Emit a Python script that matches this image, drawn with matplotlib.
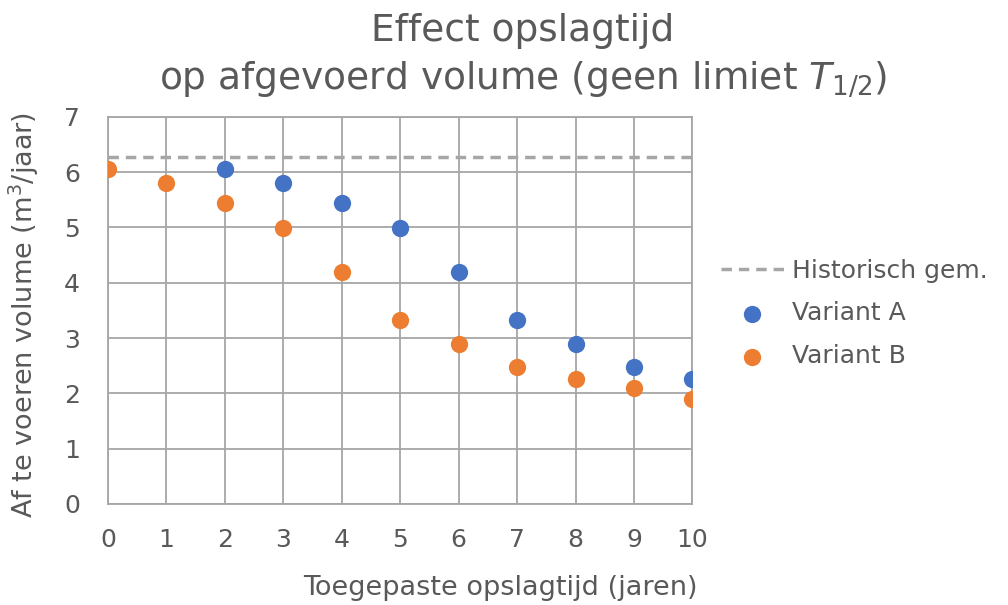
import matplotlib.pyplot as plt
import numpy as np

# data
years = np.arange(0, 11)
variant_a_years = np.arange(2, 11)
variant_a = [6.05, 5.81, 5.45, 4.98, 4.20, 3.32, 2.89, 2.47, 2.26]
variant_b = [6.05, 5.81, 5.45, 4.98, 4.20, 3.32, 2.89, 2.47, 2.26, 2.09, 1.90]
historisch_gem = 6.28

text_color = '#595959'
grid_color = '#a6a6a6'

plt.rcParams['font.family'] = 'DejaVu Sans'

fig = plt.figure(figsize=(10.08, 6.05), dpi=100)
ax = fig.add_axes([0.107, 0.167, 0.580, 0.640])

ax.axhline(historisch_gem, color=grid_color, linestyle=(0, (3, 2)), linewidth=2.5,
           label='Historisch gem.', zorder=2)
ax.scatter(variant_a_years, variant_a, s=155, color='#4472C4', label='Variant A', zorder=3,
           linewidths=0)
ax.scatter(years, variant_b, s=155, color='#ED7D31', label='Variant B', zorder=3,
           linewidths=0)

ax.set_xlim(0, 10)
ax.set_ylim(0, 7)
ax.set_xticks(range(0, 11))
ax.set_yticks(range(0, 8))
ax.grid(True, color=grid_color, linewidth=1.3)
ax.set_axisbelow(True)
for s in ax.spines.values():
    s.set_color(grid_color)
    s.set_linewidth(1.3)
ax.tick_params(length=0, labelsize=18, colors=text_color)
ax.tick_params(axis='x', pad=17)
ax.tick_params(axis='y', pad=20)
for lab in ax.get_xticklabels() + ax.get_yticklabels():
    lab.set_clip_on(False)

ax.set_xlabel('Toegepaste opslagtijd (jaren)', fontsize=19.5, color=text_color)
ax.xaxis.set_label_coords(0.671, -0.183)
ax.set_ylabel('Af te voeren volume (m$^3$/jaar)', fontsize=19.5, color=text_color)
ax.yaxis.set_label_coords(-0.114, 0.487)

fig.text(0.518, 0.948, 'Effect opslagtijd', ha='center', va='center', fontsize=27,
         color=text_color)
fig.text(0.519, 0.869, 'op afgevoerd volume (geen limiet $\\mathit{T}_{\\mathit{1/2}}$)',
         ha='center', va='center', fontsize=27, color=text_color)

fig.legend(loc='center left', bbox_to_anchor=(0.693, 0.482), frameon=False, fontsize=18,
           labelcolor=text_color, handlelength=2.5, handletextpad=0.35, labelspacing=0.75)

fig.savefig('out.png', dpi=100)
